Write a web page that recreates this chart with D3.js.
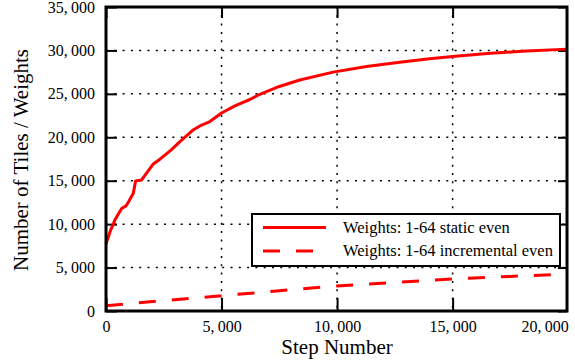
<!DOCTYPE html>
<html>
  <head>
  <title>Tiles / Weights vs Step</title>
  <style>
    body, html { margin: 0; padding: 0; background: #fff; }
  </style>
  </head>
  <body>
  <svg id="svg" width="575" height="362"></svg>

  <script src="https://d3js.org/d3.v7.min.js"></script>
  <script>
    // static even weights
    const staticSteps = [0, 170, 389, 677, 865, 1000, 1182, 1282, 1541, 2047, 2335, 2800, 3200, 3750, 4064, 4496, 5000, 5600, 6225, 6658, 7500, 8387, 9828, 11270, 12711, 14000, 15000, 16500, 18000, 19950]
    const staticVals = [7700, 9100, 10500, 11800, 12100, 12700, 13560, 14980, 15090, 16930, 17480, 18500, 19500, 20800, 21300, 21810, 22800, 23650, 24350, 24950, 25850, 26600, 27500, 28150, 28650, 29050, 29300, 29650, 29900, 30150]
    // incremental even weights
    const incSteps = [0, 2500, 5000, 7500, 10000, 12500, 15000, 17500, 19950]
    const incVals = [600, 1200, 1760, 2330, 2890, 3300, 3680, 3980, 4270]

    const xTicks = [0, 5000, 10000, 15000, 20000]
    const yTicks = [0, 5000, 10000, 15000, 20000, 25000, 30000, 35000]
    const legendLabels = ['Weights: 1-64 static even', 'Weights: 1-64 incremental even']

    const serif = '"Liberation Serif", "Times New Roman", serif'
    const pL = 106, pR = 567, pT = 7, pB = 311
    const svg = d3.select('#svg')

    const x = d3.scaleLinear().domain([0, 19950]).range([pL, pR])
    const y = d3.scaleLinear().domain([0, 35000]).range([pB, pT])
    const fmt = d => d3.format(',')(d).replace(',', ',\u2009')

    // grid
    const grid = svg.append('g')
    grid.selectAll('.gy').data(yTicks.filter(d => d > 0 && d < 35000)).join('line')
      .attr('x1', pL).attr('x2', pR)
      .attr('y1', d => y(d)).attr('y2', d => y(d))
      .attr('stroke', '#000').attr('stroke-width', 1.5).attr('stroke-dasharray', '2,6.3')
    grid.selectAll('.gx').data(xTicks.filter(d => d > 0 && d < 19950)).join('line')
      .attr('x1', d => x(d)).attr('x2', d => x(d))
      .attr('y1', pT).attr('y2', pB)
      .attr('stroke', '#000').attr('stroke-width', 1.5).attr('stroke-dasharray', '2,6.3')

    // axes with inward ticks
    const yAxis = svg.append('g').attr('transform', `translate(${pL},0)`)
      .call(d3.axisLeft(y).tickValues(yTicks).tickSize(-11).tickPadding(11).tickFormat(fmt))
    const yAxisR = svg.append('g').attr('transform', `translate(${pR},0)`)
      .call(d3.axisRight(y).tickValues(yTicks).tickSize(-9).tickFormat(''))
    const xAxis = svg.append('g').attr('transform', `translate(0,${pB})`)
      .call(d3.axisBottom(x).tickValues(xTicks).tickSize(-13).tickPadding(10).tickFormat(fmt))
    const xAxisT = svg.append('g').attr('transform', `translate(0,${pT})`)
      .call(d3.axisTop(x).tickValues(xTicks.filter(d => d < 19950)).tickSize(-11).tickFormat(''))

    ;[yAxis, yAxisR, xAxis, xAxisT].forEach(a => {
      a.attr('font-family', null).attr('font-size', null)
      a.select('.domain').remove()
      a.selectAll('line').attr('stroke', '#000').attr('stroke-width', 2)
      a.selectAll('text').style('font-size', '16px').style('font-family', serif).attr('fill', '#000')
    })
    xAxis.selectAll('.tick').filter(d => d > 19950).select('line').remove()
    xAxis.selectAll('.tick').filter(d => d > 19950).select('text').attr('text-anchor', 'end')

    // lines
    const line = d3.line().x(d => x(d[0])).y(d => y(d[1]))
    svg.append('path')
      .attr('d', line(d3.zip(staticSteps, staticVals)))
      .attr('fill', 'none').attr('stroke', '#ff0000').attr('stroke-width', 3)
      .attr('stroke-linejoin', 'round')
    svg.append('path')
      .attr('d', line(d3.zip(incSteps, incVals)))
      .attr('fill', 'none').attr('stroke', '#ff0000').attr('stroke-width', 3)
      .attr('stroke-dasharray', '17,16')

    // legend
    const lg = svg.append('g')
    lg.append('rect').attr('x', 252).attr('y', 214).attr('width', 308).attr('height', 52)
      .attr('fill', '#fff').attr('stroke', '#000').attr('stroke-width', 2)
    legendLabels.forEach((t, i) => {
      const ly = 227.5 + i * 23.5
      lg.append('line').attr('x1', 263).attr('x2', 326).attr('y1', ly).attr('y2', ly)
        .attr('stroke', '#ff0000').attr('stroke-width', 3)
        .attr('stroke-dasharray', i === 1 ? '17,16' : null)
      lg.append('text').attr('x', 343).attr('y', ly).attr('dy', '0.33em')
        .style('font-family', serif).style('font-size', '16.5px').text(t)
    })

    // frame
    svg.append('rect').attr('x', pL).attr('y', pT)
      .attr('width', pR - pL).attr('height', pB - pT)
      .attr('fill', 'none').attr('stroke', '#000').attr('stroke-width', 3)

    // axis titles
    svg.append('text').attr('x', 337).attr('y', 354)
      .attr('text-anchor', 'middle').style('font-family', serif).style('font-size', '21px')
      .text('Step Number')
    svg.append('text').attr('transform', 'translate(28,160) rotate(-90)')
      .attr('text-anchor', 'middle').style('font-family', serif).style('font-size', '21px')
      .text('Number of Tiles / Weights')
  </script>
  </body>
</html>
